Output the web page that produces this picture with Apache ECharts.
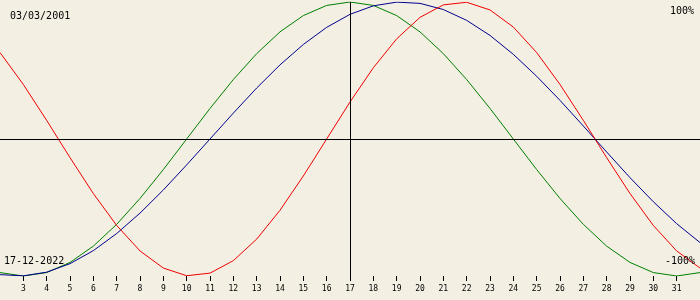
<!DOCTYPE html>
<html>
<head>
<meta charset="utf-8">
<script src="https://cdn.jsdelivr.net/npm/echarts@6/dist/echarts.min.js"></script>
<style>
html,body{margin:0;padding:0;background:#f3efe3;}
#chart{width:700px;height:300px;}
</style>
</head>
<body>
<div id="chart"></div>
<script>
// Days of the month shown (x axis)
const days = [2,3,4,5,6,7,8,9,10,11,12,13,14,15,16,17,18,19,20,21,22,23,24,25,26,27,28,29,30,31,32];
// Tick labels
const tickLabels = [3,4,5,6,7,8,9,10,11,12,13,14,15,16,17,18,19,20,21,22,23,24,25,26,27,28,29,30,31];
// Physical (red), %
const physical = [63.1,39.8,13.6,-13.6,-39.8,-63.1,-81.7,-94.2,-99.8,-97.9,-88.8,-73.1,-52.0,-27.0,0,27.0,52.0,73.1,88.8,97.9,99.8,94.2,81.7,63.1,39.8,13.6,-13.6,-39.8,-63.1,-81.7,-94.2];
// Emotional (green), %
const emotional = [-97.5,-100,-97.5,-90.1,-78.2,-62.3,-43.4,-22.3,0,22.3,43.4,62.3,78.2,90.1,97.5,100,97.5,90.1,78.2,62.3,43.4,22.3,0,-22.3,-43.4,-62.3,-78.2,-90.1,-97.5,-100,-97.5];
// Intellectual (blue), %
const intellectual = [-99.0,-99.9,-97.2,-91.0,-81.5,-69.0,-54.1,-37.2,-18.9,0,18.9,37.2,54.1,69.0,81.5,91.0,97.2,99.9,99.0,94.5,86.6,75.6,61.8,45.8,28.2,9.5,-9.5,-28.2,-45.8,-61.8,-75.6];
const todayDay = 17;
const birthText = '03/03/2001';
const todayText = '17-12-2022';
const topText = '100%';
const bottomText = '-100%';

const mono = '"DejaVu Sans Mono", "Liberation Mono", monospace';
const pairs = arr => days.map((d, i) => [d, arr[i]]);

const chart = echarts.init(document.getElementById('chart'), null, {renderer: 'canvas'});
chart.setOption({
  backgroundColor: '#f3efe3',
  animation: false,
  grid: {left: 0, right: 0, top: 2, bottom: 24},
  xAxis: {
    type: 'value', min: 2, max: 32,
    axisLine: {show: false, onZero: false},
    splitLine: {show: false},
    axisTick: {show: true, customValues: tickLabels, length: 5, lineStyle: {color: '#000', width: 1}},
    axisLabel: {show: true, customValues: tickLabels, fontSize: 8, fontFamily: mono, color: '#000', margin: 9}
  },
  yAxis: {
    type: 'value', min: -100, max: 100,
    axisLine: {show: false}, axisTick: {show: false}, axisLabel: {show: false}, splitLine: {show: false}
  },
  series: [
    {type: 'line', data: pairs(emotional), showSymbol: false, lineStyle: {color: '#007f00', width: 1}, z: 3},
    {type: 'line', data: pairs(intellectual), showSymbol: false, lineStyle: {color: '#00008f', width: 1}, z: 3},
    {type: 'line', data: pairs(physical), showSymbol: false, lineStyle: {color: '#ee0000', width: 1}, z: 4,
     markLine: {silent: true, symbol: 'none', label: {show: false},
       lineStyle: {color: '#000', type: 'solid', width: 1},
       data: [{xAxis: todayDay}, {yAxis: 0}]}}
  ],
  graphic: [
    {type: 'text', left: 10, top: 11, z: 100, style: {text: birthText, font: '10px ' + mono, fill: '#000'}},
    {type: 'text', right: 6, top: 6, z: 100, style: {text: topText, font: '10px ' + mono, fill: '#000'}},
    {type: 'text', left: 4, top: 256, z: 100, style: {text: todayText, font: '10px ' + mono, fill: '#000'}},
    {type: 'text', right: 5, top: 256, z: 100, style: {text: bottomText, font: '10px ' + mono, fill: '#000'}}
  ]
});
</script>
</body>
</html>
